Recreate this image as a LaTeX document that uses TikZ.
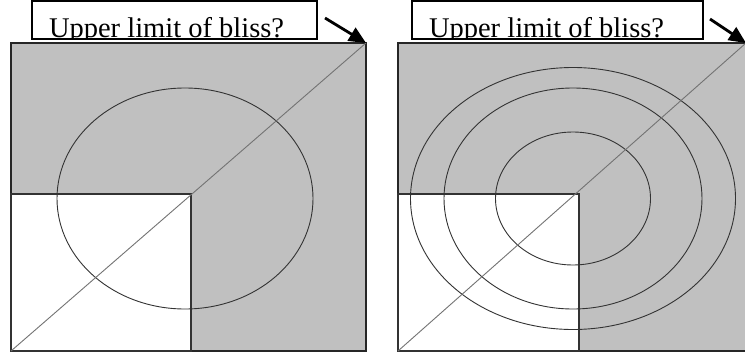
\documentclass[tikz,border=0pt]{standalone}
\usepackage{fontspec}
\setmainfont{Liberation Serif}
\usetikzlibrary{arrows.meta}
\definecolor{panelgray}{RGB}{192,192,192}
\begin{document}
\begin{tikzpicture}[x=1pt,y=-1pt,
  every node/.style={inner sep=0pt, outer sep=0pt},
  panel/.style={fill=panelgray, draw=black!85, line width=1.5pt, anchor=north west},
  lowbox/.style={fill=white, draw=black!80, line width=1.2pt, anchor=south west},
  ring/.style={draw=black!80, line width=0.9pt},
  diag/.style={draw=black!55, line width=0.9pt},
  labelbox/.style={draw=black, fill=white, line width=2pt, minimum height=38pt, anchor=north west,
    path picture={\node[anchor=base west, minimum width=0pt, minimum height=0pt,
      font=\fontsize{28.5}{30}\selectfont]
      at ([xshift=17pt,yshift=2pt]path picture bounding box.south west) {#1};}},
  pointer/.style={draw=black, line width=2.8pt, -{Triangle[length=17pt,width=15pt]}}]

\useasboundingbox (0,0) rectangle (745,356);

\node[panel, minimum width=355pt, minimum height=308pt] (sqA) at (11,43) {};
\node[lowbox, minimum width=180pt, minimum height=157pt] (lowA) at (sqA.south west) {};
\draw[ring] (185,198.5) ellipse [x radius=128, y radius=110.5];
\draw[diag] (sqA.south west) -- (sqA.north east);

\node[panel, minimum width=348pt, minimum height=308pt] (sqB) at (398,43) {};
\node[lowbox, minimum width=181pt, minimum height=157pt] (lowB) at (sqB.south west) {};
\foreach \rx/\ry in {77.5/66.5, 129/110.5, 162.5/131}
  \draw[ring] (573,198.5) ellipse [x radius=\rx, y radius=\ry];
\draw[diag] (sqB.south west) -- (sqB.north east);

\node[labelbox={Upper limit of bliss?}, minimum width=285pt] (blissA) at (32,1) {};
\node[labelbox={Upper limit of bliss?}, minimum width=291pt] (blissB) at (412,1) {};

\coordinate (tailA) at (325,18);
\coordinate (tailB) at (710,19);
\draw[pointer] (tailA) -- (sqA.north east);
\draw[pointer] (tailB) -- (sqB.north east);
\end{tikzpicture}
\end{document}
